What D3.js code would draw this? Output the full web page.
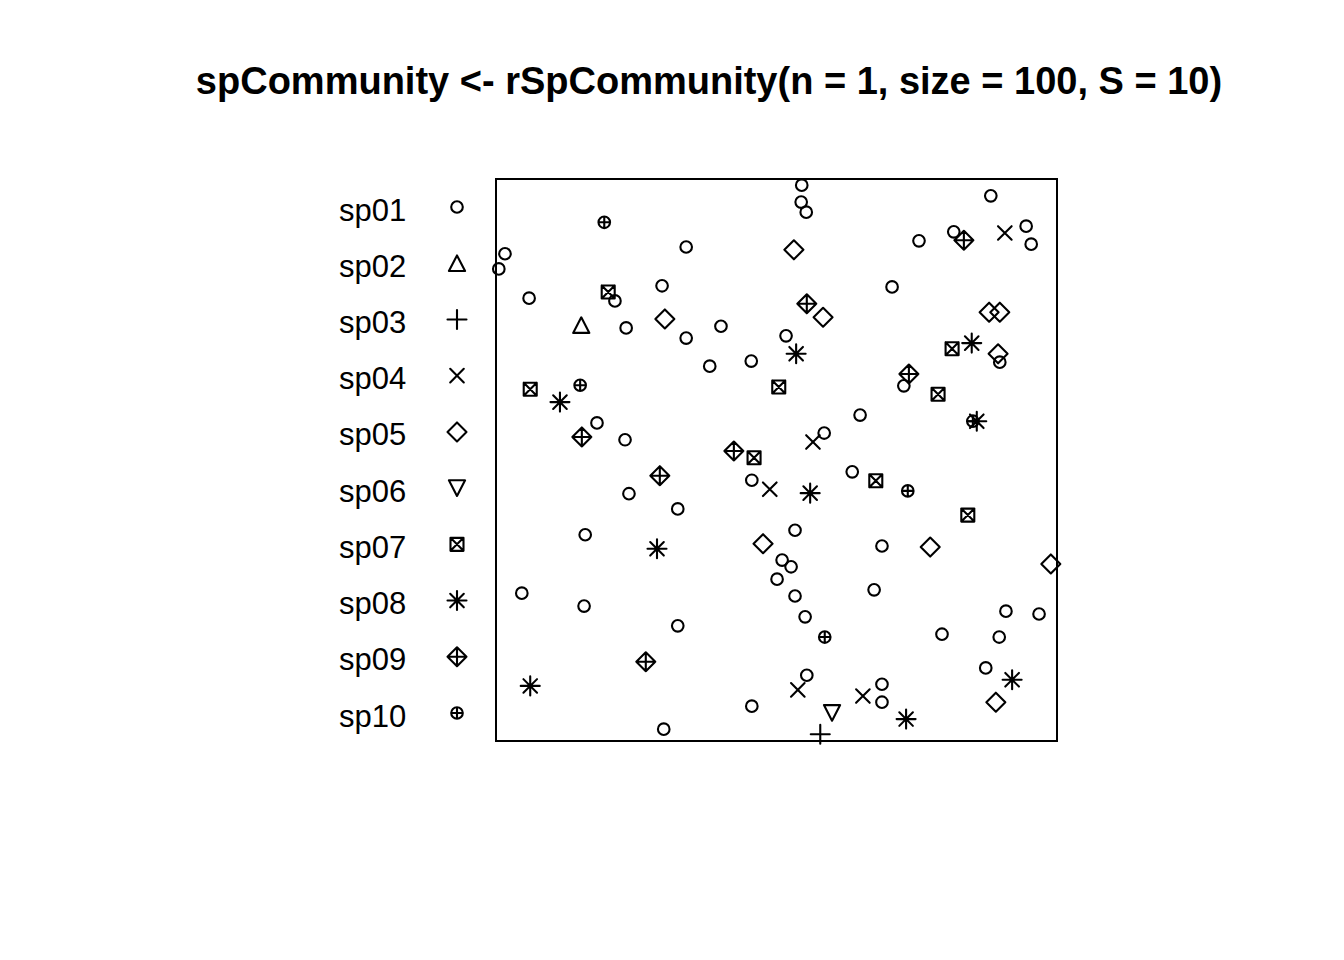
<!DOCTYPE html>
<html>
<head>
<meta charset="utf-8">
<script src="https://cdn.jsdelivr.net/npm/d3@7"></script>
<style>
  body { margin: 0; background: #fff; }
  svg { display: block; }
</style>
</head>
<body>
<div id="chart"></div>
<script>
// species names and their R plotting symbols (pch)
var species = ["sp01", "sp02", "sp03", "sp04", "sp05", "sp06", "sp07", "sp08", "sp09", "sp10"]
var pch = [1, 2, 3, 4, 5, 6, 7, 8, 9, 10]

// point coordinates in the unit window, and the species index of each point
var pointX = [
  0.016, 0.005, 0.339, 0.059, 0.212, 0.296, 0.232, 0.339, 0.401, 0.381,
  0.455, 0.180, 0.230, 0.545, 0.544, 0.553, 0.882, 0.754, 0.816, 0.945,
  0.954, 0.706, 0.517, 0.898, 0.727, 0.649, 0.585, 0.237, 0.324, 0.456,
  0.159, 0.046, 0.157, 0.324, 0.456, 0.299, 0.635, 0.533, 0.510, 0.526,
  0.501, 0.533, 0.551, 0.688, 0.674, 0.909, 0.968, 0.795, 0.897, 0.873,
  0.554, 0.688, 0.688,
  0.152,
  0.578,
  0.907, 0.565, 0.488, 0.538, 0.654,
  0.301, 0.531, 0.583, 0.879, 0.898, 0.895, 0.476, 0.774, 0.989, 0.891,
  0.599,
  0.200, 0.061, 0.504, 0.460, 0.813, 0.788, 0.677, 0.841,
  0.114, 0.535, 0.848, 0.857, 0.560, 0.287, 0.061, 0.920, 0.731,
  0.153, 0.424, 0.834, 0.554, 0.736, 0.292, 0.267,
  0.193, 0.150, 0.850, 0.734, 0.586
]
var pointY = [
  0.867, 0.840, 0.879, 0.788, 0.783, 0.810, 0.735, 0.717, 0.738, 0.667,
  0.676, 0.566, 0.536, 0.989, 0.959, 0.941, 0.970, 0.890, 0.906, 0.916,
  0.884, 0.808, 0.721, 0.674, 0.632, 0.580, 0.548, 0.440, 0.413, 0.464,
  0.367, 0.263, 0.240, 0.205, 0.062, 0.021, 0.479, 0.375, 0.322, 0.310,
  0.288, 0.258, 0.221, 0.347, 0.269, 0.231, 0.226, 0.190, 0.185, 0.130,
  0.117, 0.101, 0.069,
  0.740,
  0.012,
  0.904, 0.532, 0.448, 0.091, 0.080,
  0.751, 0.874, 0.754, 0.763, 0.763, 0.689, 0.351, 0.345, 0.315, 0.069,
  0.050,
  0.799, 0.626, 0.630, 0.504, 0.698, 0.617, 0.463, 0.402,
  0.603, 0.689, 0.708, 0.569, 0.441, 0.342, 0.098, 0.109, 0.039,
  0.541, 0.516, 0.891, 0.778, 0.653, 0.472, 0.141,
  0.923, 0.633, 0.569, 0.445, 0.185
]
var pointSp = [
  0,0,0,0,0,0,0,0,0,0, 0,0,0,0,0,0,0,0,0,0,
  0,0,0,0,0,0,0,0,0,0, 0,0,0,0,0,0,0,0,0,0,
  0,0,0,0,0,0,0,0,0,0, 0,0,0,
  1,
  2,
  3,3,3,3,3,
  4,4,4,4,4,4,4,4,4,4,
  5,
  6,6,6,6,6,6,6,6,
  7,7,7,7,7,7,7,7,7,
  8,8,8,8,8,8,8,
  9,9,9,9,9
]

var title = "spCommunity <- rSpCommunity(n = 1, size = 100, S = 10)"

var width = 1344
var height = 960

var svg = d3.select("#chart")
  .append("svg")
  .attr("width", width)
  .attr("height", height)

var x = d3.scaleLinear().domain([0, 1]).range([496, 1057])
var y = d3.scaleLinear().domain([0, 1]).range([741, 179])
var legendY = d3.scaleLinear().domain([0, species.length - 1]).range([207, 713])

// R-like symbol outlines, centred on 0,0
function symbolPath(code) {
  var p = d3.path()
  var r = 5.8, sq = 6.5, dm = 9.5, pl = 9.5, cr = 6.8
  function circle(rad) { p.moveTo(rad, 0); p.arc(0, 0, rad, 0, 2 * Math.PI) }
  function plus(h) { p.moveTo(-h, 0); p.lineTo(h, 0); p.moveTo(0, -h); p.lineTo(0, h) }
  function cross(h) { p.moveTo(-h, -h); p.lineTo(h, h); p.moveTo(-h, h); p.lineTo(h, -h) }
  function diamond(h) { p.moveTo(0, -h); p.lineTo(h, 0); p.lineTo(0, h); p.lineTo(-h, 0); p.closePath() }
  if (code === 1) circle(r)
  if (code === 2) { p.moveTo(0, -7.8); p.lineTo(8.1, 7.8); p.lineTo(-8.1, 7.8); p.closePath() }
  if (code === 3) plus(pl)
  if (code === 4) cross(cr)
  if (code === 5) diamond(dm)
  if (code === 6) { p.moveTo(0, 7.8); p.lineTo(8.1, -7.8); p.lineTo(-8.1, -7.8); p.closePath() }
  if (code === 7) { p.rect(-sq, -sq, 2 * sq, 2 * sq); cross(sq) }
  if (code === 8) { plus(pl); cross(cr) }
  if (code === 9) { diamond(dm); plus(dm) }
  if (code === 10) { circle(r); plus(r) }
  return p.toString()
}

// title
svg.append("text")
  .attr("x", 709)
  .attr("y", 94)
  .attr("text-anchor", "middle")
  .attr("font-family", "'Liberation Sans', Arial, sans-serif")
  .attr("font-weight", "bold")
  .attr("font-size", 38)
  .text(title)

// plot window
svg.append("rect")
  .attr("x", x(0))
  .attr("y", y(1))
  .attr("width", x(1) - x(0))
  .attr("height", y(0) - y(1))
  .attr("fill", "none")
  .attr("stroke", "#000")
  .attr("stroke-width", 2)

// points
svg.append("g")
  .selectAll("path")
  .data(d3.range(pointX.length))
  .enter()
  .append("path")
  .attr("transform", function(i) { return "translate(" + x(pointX[i]) + "," + y(pointY[i]) + ")" })
  .attr("d", function(i) { return symbolPath(pch[pointSp[i]]) })
  .attr("fill", "none")
  .attr("stroke", "#000")
  .attr("stroke-width", 2.1)
  .attr("stroke-linejoin", "round")
  .attr("stroke-linecap", "round")

// legend
var legend = svg.append("g")
  .selectAll("g")
  .data(species)
  .enter()
  .append("g")

legend.append("text")
  .attr("x", 339)
  .attr("y", function(d, i) { return legendY(i) + 13.5 })
  .attr("font-family", "'Liberation Sans', Arial, sans-serif")
  .attr("font-size", 31)
  .text(function(d) { return d })

legend.append("path")
  .attr("transform", function(d, i) { return "translate(457," + legendY(i) + ")" })
  .attr("d", function(d, i) { return symbolPath(pch[i]) })
  .attr("fill", "none")
  .attr("stroke", "#000")
  .attr("stroke-width", 2.1)
  .attr("stroke-linejoin", "round")
  .attr("stroke-linecap", "round")
</script>
</body>
</html>
